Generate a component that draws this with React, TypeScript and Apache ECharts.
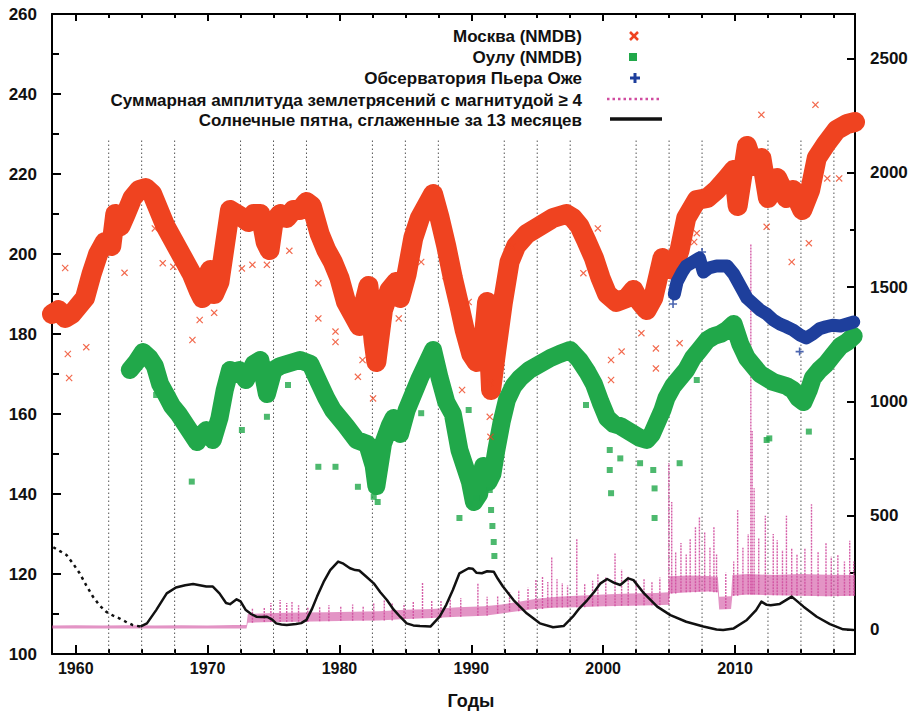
import React, { useEffect, useRef } from "react";
import * as echarts from "echarts";

// ---------- axes ----------
const X_MIN = 1958.2;
const X_MAX = 2019.1;
const majorYears = [1960, 1970, 1980, 1990, 2000, 2010];
const minorYears = [1962.5, 1965, 1967.5, 1972.5, 1975, 1977.5, 1982.5, 1985, 1987.5, 1992.5, 1995, 1997.5, 2002.5, 2005, 2007.5, 2012.5, 2015, 2017.5];
const leftLabels = [100, 120, 140, 160, 180, 200, 220, 240, 260];
const leftMinor = [110, 130, 150, 170, 190, 210, 230, 250];
const rightLabels = [0, 500, 1000, 1500, 2000, 2500];
const rightMinor = [250, 750, 1250, 1750, 2250];
const GRID_TOP_VALUE = 228.5;

// ---------- Moscow (NMDB) ----------
const moscowYears = [1958.2, 1958.7, 1959.2, 1959.7, 1960.2, 1960.7, 1961.2, 1961.7, 1962.2, 1962.7, 1963.0, 1963.4, 1963.8, 1964.3, 1964.8, 1965.3, 1965.8, 1966.3, 1966.8, 1967.3, 1967.8, 1968.3, 1968.8, 1969.3, 1969.6, 1969.9, 1970.2, 1970.5, 1970.9, 1971.3, 1971.7, 1972.2, 1972.7, 1973.1, 1973.5, 1974.0, 1974.4, 1974.7, 1975.0, 1975.5, 1976.0, 1976.5, 1977.0, 1977.5, 1977.9, 1978.5, 1979.0, 1979.5, 1980.0, 1980.5, 1981.0, 1981.5, 1981.9, 1982.2, 1982.6, 1982.8, 1983.3, 1983.8, 1984.3, 1984.6, 1985.1, 1985.6, 1986.1, 1986.6, 1987.1, 1987.6, 1988.1, 1988.6, 1989.1, 1989.5, 1990.0, 1990.4, 1990.8, 1991.2, 1991.5, 1991.9, 1992.4, 1992.9, 1993.4, 1994.2, 1995.2, 1996.2, 1997.2, 1997.7, 1998.2, 1998.7, 1999.3, 1999.8, 2000.3, 2001.0, 2001.8, 2002.3, 2002.8, 2003.3, 2003.8, 2004.5, 2005.3, 2005.8, 2006.3, 2007.1, 2007.9, 2008.6, 2009.4, 2009.9, 2010.2, 2010.9, 2011.4, 2012.0, 2012.5, 2013.2, 2013.9, 2014.4, 2015.1, 2015.7, 2016.2, 2016.9, 2017.7, 2018.5, 2019.1];
const moscowValues = [185, 186, 184, 185, 187, 189, 195, 200, 203, 202, 210, 207, 210, 214, 216, 216.5, 215, 211, 207, 204, 201, 198, 195, 191, 189, 194, 196, 190, 193, 202, 211, 210, 209, 208, 210, 210, 203, 201, 208, 210, 209, 211, 211, 213, 212, 205, 201, 198, 194, 188, 185, 182, 188, 192, 178, 173, 186, 191, 193, 189, 195, 204, 209, 212, 215, 209, 202, 194, 187, 181, 175, 173, 174, 188, 166, 176, 188, 198, 202, 205, 207, 209, 210, 209, 207, 203.5, 199, 194, 190, 188, 189, 191, 188, 186, 189, 199, 196, 201, 209, 213.5, 214, 216, 219, 221, 212, 227, 222, 224, 214, 219, 214, 216, 211, 216, 224, 227.5, 231, 232.5, 233];
const moscowOutYears = [1959.2, 1959.5, 1959.4, 1960.8, 1963.7, 1966.0, 1966.6, 1967.4, 1968.85, 1969.4, 1970.5, 1972.6, 1973.4, 1974.5, 1976.2, 1978.4, 1978.4, 1979.7, 1979.7, 1981.4, 1981.75, 1982.55, 1984.5, 1986.2, 1988.05, 1989.3, 1989.8, 1991.4, 1991.45, 1991.4, 1993.1, 1998.5, 1999.6, 2000.6, 2000.6, 2001.4, 2002.9, 2004.0, 2004.0, 2005.8, 2006.9, 2007.1, 2012.0, 2012.4, 2014.3, 2015.6, 2016.1, 2017.0, 2017.9];
const moscowOutValues = [196.5, 169, 175, 176.7, 195.3, 206.4, 197.7, 196.8, 178.5, 183.5, 185.3, 196.4, 197.3, 197.3, 200.8, 192.7, 183.9, 180.6, 178, 169.3, 173.5, 163.9, 183.9, 198, 194.5, 166, 188, 159.3, 154.3, 167.7, 201.8, 195.2, 206.4, 173.5, 168.5, 175.6, 180.2, 176.4, 171.4, 177.7, 203, 205.2, 234.8, 206.8, 198, 202.7, 237.3, 218.9, 218.9];

// ---------- Oulu (NMDB) ----------
const ouluYears = [1964.1, 1964.6, 1965.1, 1965.6, 1966.0, 1966.4, 1966.9, 1967.3, 1967.8, 1968.4, 1968.8, 1969.2, 1969.6, 1969.9, 1970.4, 1970.9, 1971.3, 1971.7, 1972.1, 1972.4, 1972.9, 1973.5, 1974.0, 1974.5, 1975.0, 1975.5, 1976.0, 1976.5, 1977.0, 1977.8, 1978.5, 1979.0, 1979.5, 1980.0, 1980.5, 1981.3, 1982.1, 1982.6, 1982.8, 1983.3, 1983.8, 1984.1, 1984.6, 1985.1, 1985.6, 1986.1, 1986.6, 1987.1, 1987.6, 1988.1, 1988.6, 1989.1, 1989.5, 1989.9, 1990.2, 1990.6, 1990.9, 1991.3, 1991.6, 1991.9, 1992.3, 1992.7, 1993.2, 1993.7, 1994.4, 1995.2, 1996.0, 1996.7, 1997.5, 1998.2, 1998.8, 1999.3, 1999.8, 2000.3, 2000.8, 2001.3, 2001.8, 2002.3, 2002.8, 2003.3, 2003.7, 2004.1, 2004.5, 2004.8, 2005.3, 2005.8, 2006.3, 2006.8, 2007.3, 2007.9, 2008.4, 2008.9, 2009.4, 2009.9, 2010.4, 2010.9, 2011.4, 2011.9, 2012.4, 2012.9, 2013.4, 2013.9, 2014.4, 2014.8, 2015.2, 2015.6, 2015.9, 2016.4, 2016.9, 2017.5, 2018.0, 2018.5, 2019.0];
const ouluValues = [171, 173, 175.5, 174, 172, 167.5, 164.5, 162, 160, 157, 155, 153, 155, 156, 153.5, 159, 166, 171, 170, 171, 168.5, 172.5, 173.5, 165, 171, 172, 172.5, 173, 173.5, 172.5, 167.5, 164, 161, 159, 157, 153.5, 152.5, 147, 142, 152.5, 157, 159, 155, 161, 165, 169, 172.5, 176, 169, 163, 160, 151, 147, 143, 138, 140, 147, 143, 145, 151, 158, 163.5, 167, 169, 171, 172.5, 174, 175, 176, 173.5, 170.5, 167.5, 163, 159, 157.5, 157, 156, 155, 154, 153.5, 155, 158, 161, 164, 167, 169, 171, 174, 176, 178.5, 179.5, 180, 181, 182.5, 177.5, 174, 172, 170, 169, 168, 167.5, 167, 166, 164, 163, 166, 169, 171, 172.5, 175, 177, 178, 179.5];
const ouluOutYears = [1966.1, 1968.8, 1972.6, 1974.5, 1976.1, 1978.4, 1979.7, 1981.4, 1982.6, 1982.9, 1986.2, 1989.1, 1989.8, 1989.9, 1990.4, 1991.4, 1991.5, 1991.6, 1991.7, 1991.75, 1998.7, 2000.5, 2000.5, 2000.6, 2001.3, 2002.8, 2003.8, 2003.9, 2003.9, 2005.8, 2007.1, 2012.4, 2012.6, 2015.6];
const ouluOutValues = [164.75, 143.1, 156, 159.3, 167.25, 146.8, 146.8, 141.8, 139.3, 138, 160.2, 134, 161, 137.5, 139, 141, 136, 132, 128, 124.5, 162.25, 151, 146, 140.2, 148.9, 147.7, 146, 141.4, 134, 147.7, 168.5, 153.5, 153.9, 155.6];

// ---------- Pierre Auger Observatory ----------
const augerYears = [2005.4, 2005.6, 2006.0, 2006.3, 2006.8, 2007.3, 2007.6, 2008.0, 2008.6, 2009.1, 2009.4, 2009.9, 2010.4, 2010.9, 2011.4, 2011.9, 2012.4, 2012.9, 2013.4, 2013.9, 2014.4, 2014.9, 2015.4, 2015.9, 2016.4, 2016.9, 2017.4, 2018.0, 2018.5, 2019.0];
const augerValues = [190, 193, 195.5, 197, 198, 199, 195.5, 196.5, 197, 197, 197, 195, 192, 189, 187.5, 186, 185, 183.5, 182.5, 181.8, 181, 179.8, 179, 180, 181.3, 181.8, 182.2, 182, 182.5, 183];
const augerOutYears = [2005.3, 2007.5, 2014.9];
const augerOutValues = [187.5, 200.5, 175.6];

// ---------- Earthquakes (right axis) ----------
const quakeBandYears = [1958.2, 1960, 1962, 1964, 1966, 1968, 1970, 1972, 1972.95, 1973.05, 1975, 1977, 1979, 1981, 1983, 1985, 1987, 1989, 1991, 1992.3, 1993.5, 1994.8, 1996.5, 1998, 2000, 2002, 2004, 2004.95, 2005.05, 2006.5, 2008, 2008.7, 2008.8, 2009.7, 2009.8, 2011, 2013, 2015, 2017, 2019.1];
const quakeBandLow = [6, 6, 7, 6, 7, 6, 7, 7, 7, 32, 35, 36, 38, 40, 42, 48, 52, 58, 62, 72, 82, 92, 98, 100, 104, 106, 108, 110, 160, 165, 168, 165, 90, 92, 150, 155, 152, 150, 148, 150];
const quakeBandHigh = [20, 21, 20, 21, 20, 21, 20, 22, 22, 70, 74, 76, 78, 80, 82, 88, 92, 100, 104, 112, 122, 135, 145, 150, 155, 160, 162, 165, 235, 238, 236, 232, 145, 148, 240, 245, 240, 245, 242, 240];
const quakeSpikeYears = [1973.4, 1974.3, 1974.8, 1975.5, 1976.0, 1976.4, 1976.9, 1977.6, 1978.5, 1979.2, 1980.1, 1981.0, 1981.8, 1982.6, 1983.4, 1984.0, 1984.9, 1985.6, 1986.3, 1987.0, 1987.7, 1988.4, 1989.2, 1990.5, 1991.2, 1992.0, 1992.9, 1993.6, 1994.3, 1994.9, 1995.4, 1995.8, 1996.1, 1996.5, 1996.9, 1997.3, 1998.0, 1998.6, 1999.2, 1999.6, 2000.2, 2000.9, 2001.4, 2001.9, 2002.5, 2003.1, 2003.7, 2004.3, 2004.98, 2005.2, 2005.5, 2005.9, 2006.3, 2006.6, 2007.0, 2007.3, 2007.7, 2008.1, 2008.4, 2008.6, 2009.3, 2009.9, 2010.2, 2010.6, 2011.0, 2011.2, 2011.3, 2011.45, 2011.8, 2012.3, 2012.9, 2013.2, 2013.6, 2013.9, 2014.3, 2014.7, 2015.3, 2015.8, 2016.3, 2016.9, 2017.3, 2017.8, 2018.3, 2018.7, 2019.0];
const quakeSpikePeaks = [95, 100, 118, 131, 118, 122, 108, 102, 100, 108, 105, 112, 106, 120, 130, 118, 115, 125, 205, 130, 128, 135, 140, 205, 145, 150, 165, 175, 185, 219, 232, 210, 320, 222, 205, 195, 398, 200, 215, 245, 230, 335, 265, 235, 215, 225, 210, 230, 730, 560, 340, 380, 330, 400, 450, 494, 430, 360, 450, 330, 250, 300, 524, 360, 420, 1690, 870, 620, 400, 500, 420, 393, 350, 500, 360, 330, 360, 550, 340, 380, 320, 330, 300, 390, 300];

// ---------- Sunspots, 13-month smoothed (right axis) ----------
const sunDashedYears = [1958.3, 1958.8, 1959.3, 1959.8, 1960.3, 1960.8, 1961.3, 1961.8, 1962.3, 1962.8, 1963.3, 1963.8, 1964.3, 1964.9];
const sunDashedValues = [362, 345, 328, 290, 248, 195, 146, 108, 80, 64, 51, 36, 22, 15];
const sunYears = [1964.9, 1965.4, 1966.1, 1966.9, 1967.6, 1968.3, 1968.9, 1969.4, 1969.9, 1970.4, 1970.9, 1971.4, 1971.7, 1972.2, 1972.5, 1972.9, 1973.3, 1973.7, 1974.1, 1974.5, 1974.9, 1975.2, 1975.6, 1976.0, 1976.7, 1977.1, 1977.5, 1977.9, 1978.3, 1978.8, 1979.3, 1979.9, 1980.3, 1980.8, 1981.2, 1981.5, 1982.0, 1982.6, 1983.1, 1983.6, 1984.1, 1984.6, 1985.1, 1985.6, 1986.1, 1986.9, 1987.6, 1988.1, 1988.6, 1989.1, 1989.8, 1990.1, 1990.4, 1990.8, 1991.2, 1991.7, 1992.0, 1992.4, 1993.2, 1994.2, 1995.2, 1996.2, 1997.0, 1997.7, 1998.2, 1998.8, 1999.3, 1999.8, 2000.3, 2000.8, 2001.3, 2001.9, 2002.3, 2003.1, 2004.1, 2005.1, 2006.3, 2007.6, 2008.6, 2009.1, 2009.9, 2010.9, 2011.6, 2012.0, 2012.4, 2012.7, 2013.4, 2014.3, 2015.2, 2016.2, 2017.2, 2018.2, 2019.0];
const sunValues = [15, 29, 87, 160, 186, 196, 201, 196, 190, 190, 160, 118, 113, 134, 125, 87, 70, 58, 57, 58, 45, 29, 24, 22, 26, 30, 44, 90, 146, 210, 262, 299, 290, 270, 262, 260, 235, 204, 165, 131, 90, 58, 29, 20, 17, 15, 58, 110, 175, 248, 270, 268, 250, 248, 257, 255, 225, 190, 131, 73, 29, 12, 17, 58, 95, 131, 165, 204, 223, 207, 197, 226, 218, 160, 102, 65, 36, 15, 2, 0, 7, 44, 87, 124, 110, 108, 114, 146, 102, 58, 26, 3, 0];

// ---------- legend texts ----------
const legendLabels = [
  "Москва (NMDB)",
  "Оулу (NMDB)",
  "Обсерватория Пьера Оже",
  "Суммарная амплитуда землетрясений с магнитудой ≥ 4",
  "Солнечные пятна, сглаженные за 13 месяцев",
];
const xAxisTitle = "Годы";

const RED = "#ef4320";
const GREEN = "#21a84a";
const BLUE = "#1e3f9c";
const MAGENTA = "#d04c9f";
const BLACK = "#111111";
const FONT = '"Liberation Sans", Arial, Helvetica, sans-serif';

const zip = (xs: number[], ys: number[]) => xs.map((x, i) => [x, ys[i]]);
const X_SYMBOL = "path://M0,1.2L1.2,0L5,3.8L8.8,0L10,1.2L6.2,5L10,8.8L8.8,10L5,6.2L1.2,10L0,8.8L3.8,5Z";
const PLUS_SYMBOL = "path://M4,0H6V4H10V6H6V10H4V6H0V4H4Z";

function bandLowAt(year: number): number {
  let best = 0;
  for (let i = 1; i < quakeBandYears.length; i++) {
    if (Math.abs(quakeBandYears[i] - year) < Math.abs(quakeBandYears[best] - year)) best = i;
  }
  return quakeBandLow[best];
}

export default function App() {
  const ref = useRef<HTMLDivElement>(null);
  useEffect(() => {
    if (!ref.current) return;
    const chart = echarts.init(ref.current, undefined, { renderer: "svg" });
    const plain = (v: number) => String(v);
    const xLabelStyle = { fontSize: 16, fontWeight: "bold", color: BLACK, fontFamily: FONT, formatter: plain };
    const yLabelStyle = { fontSize: 17, fontWeight: "bold", color: BLACK, fontFamily: FONT, formatter: plain };
    const axisLineStyle = { color: "#000", width: 2 };
    const tickLine = { color: "#000", width: 2 };
    const xBase = { type: "value", min: X_MIN, max: X_MAX, splitLine: { show: false } };
    const option: any = {
      animation: false,
      backgroundColor: "#ffffff",
      grid: { left: 52, top: 14, width: 803, height: 640, containLabel: false },
      xAxis: [
        {
          ...xBase, position: "bottom",
          axisLine: { show: true, onZero: false, lineStyle: axisLineStyle },
          axisTick: { show: true, inside: true, length: 9, customValues: majorYears, lineStyle: tickLine },
          axisLabel: { show: true, customValues: majorYears, margin: 6, ...xLabelStyle },
        },
        {
          ...xBase, position: "bottom",
          axisLine: { show: false, onZero: false },
          axisTick: { show: true, inside: true, length: 5, customValues: minorYears, lineStyle: tickLine },
          axisLabel: { show: false },
        },
        {
          ...xBase, position: "top",
          axisLine: { show: true, onZero: false, lineStyle: axisLineStyle },
          axisTick: { show: true, inside: true, length: 7, customValues: majorYears, lineStyle: tickLine },
          axisLabel: { show: false },
        },
        {
          ...xBase, position: "top",
          axisLine: { show: false, onZero: false },
          axisTick: { show: true, inside: true, length: 4, customValues: minorYears, lineStyle: tickLine },
          axisLabel: { show: false },
        },
      ],
      yAxis: [
        {
          type: "value", min: 100, max: 260, position: "left", splitLine: { show: false },
          axisLine: { show: true, onZero: false, lineStyle: axisLineStyle },
          axisTick: { show: true, inside: true, length: 9, customValues: leftLabels, lineStyle: tickLine },
          axisLabel: { show: true, customValues: leftLabels, margin: 15, ...yLabelStyle },
        },
        {
          type: "value", min: -105, max: 2694, position: "right", splitLine: { show: false },
          axisLine: { show: true, onZero: false, lineStyle: axisLineStyle },
          axisTick: { show: true, inside: true, length: 8, customValues: rightLabels, lineStyle: tickLine },
          axisLabel: { show: true, customValues: rightLabels, margin: 15, ...yLabelStyle },
        },
        {
          type: "value", min: 100, max: 260, position: "left", splitLine: { show: false },
          axisLine: { show: false, onZero: false },
          axisTick: { show: true, inside: true, length: 7, customValues: leftMinor, lineStyle: tickLine },
          axisLabel: { show: false },
        },
        {
          type: "value", min: -105, max: 2694, position: "right", splitLine: { show: false },
          axisLine: { show: false, onZero: false },
          axisTick: { show: true, inside: true, length: 5, customValues: rightMinor, lineStyle: tickLine },
          axisLabel: { show: false },
        },
      ],
      series: [
        {
          type: "custom", name: "grid", coordinateSystem: "cartesian2d", xAxisIndex: 0, yAxisIndex: 0, z: 1, silent: true,
          data: minorYears.map((y) => [y, 100]),
          renderItem: (_p: any, api: any) => {
            const x = api.value(0);
            const a = api.coord([x, 100]);
            const b = api.coord([x, GRID_TOP_VALUE]);
            return { type: "line", shape: { x1: a[0], y1: a[1], x2: b[0], y2: b[1] }, style: { stroke: "#555", lineWidth: 1, lineDash: [1.5, 2.5] } };
          },
        },
        {
          type: "custom", name: "quakeBand", coordinateSystem: "cartesian2d", xAxisIndex: 0, yAxisIndex: 1, z: 2, silent: true,
          data: [[quakeBandYears[0], quakeBandLow[0]]],
          renderItem: (_p: any, api: any) => {
            const pts: number[][] = [];
            for (let i = 0; i < quakeBandYears.length; i++) pts.push(api.coord([quakeBandYears[i], quakeBandHigh[i]]));
            for (let i = quakeBandYears.length - 1; i >= 0; i--) pts.push(api.coord([quakeBandYears[i], quakeBandLow[i]]));
            return { type: "polygon", shape: { points: pts }, style: { fill: MAGENTA, opacity: 0.6 } };
          },
        },
        {
          type: "custom", name: "quakeSpikes", coordinateSystem: "cartesian2d", xAxisIndex: 0, yAxisIndex: 1, z: 2, silent: true,
          data: quakeSpikeYears.map((y, i) => [y, bandLowAt(y), quakeSpikePeaks[i]]),
          encode: { x: 0, y: [1, 2] },
          renderItem: (_p: any, api: any) => {
            const x = api.value(0);
            const a = api.coord([x, api.value(1)]);
            const b = api.coord([x, api.value(2)]);
            return { type: "line", shape: { x1: a[0], y1: a[1], x2: b[0], y2: b[1] }, style: { stroke: MAGENTA, lineWidth: 1.4, lineDash: [2, 1], opacity: 0.9 } };
          },
        },
        {
          type: "line", name: "sunDashed", xAxisIndex: 0, yAxisIndex: 1, z: 3, showSymbol: false, symbol: "none",
          data: zip(sunDashedYears, sunDashedValues),
          lineStyle: { color: BLACK, width: 2.5, type: [3, 4] },
        },
        {
          type: "line", name: "sun", xAxisIndex: 0, yAxisIndex: 1, z: 3, showSymbol: false, symbol: "none",
          data: zip(sunYears, sunValues),
          lineStyle: { color: BLACK, width: 2.5, join: "round" },
        },
        {
          type: "line", name: "moscow", xAxisIndex: 0, yAxisIndex: 0, z: 4, showSymbol: false, symbol: "none",
          data: zip(moscowYears, moscowValues),
          lineStyle: { color: RED, width: 20, cap: "round", join: "round" },
        },
        {
          type: "scatter", name: "moscowOut", xAxisIndex: 0, yAxisIndex: 0, z: 4, symbol: X_SYMBOL, symbolSize: 7,
          data: zip(moscowOutYears, moscowOutValues), itemStyle: { color: RED },
        },
        {
          type: "line", name: "oulu", xAxisIndex: 0, yAxisIndex: 0, z: 4, showSymbol: false, symbol: "none",
          data: zip(ouluYears, ouluValues),
          lineStyle: { color: GREEN, width: 18, cap: "round", join: "round" },
        },
        {
          type: "scatter", name: "ouluOut", xAxisIndex: 0, yAxisIndex: 0, z: 4, symbol: "rect", symbolSize: 6,
          data: zip(ouluOutYears, ouluOutValues), itemStyle: { color: GREEN },
        },
        {
          type: "line", name: "auger", xAxisIndex: 0, yAxisIndex: 0, z: 5, showSymbol: false, symbol: "none",
          data: zip(augerYears, augerValues),
          lineStyle: { color: BLUE, width: 13, cap: "round", join: "round" },
        },
        {
          type: "scatter", name: "augerOut", xAxisIndex: 0, yAxisIndex: 0, z: 5, symbol: PLUS_SYMBOL, symbolSize: 8,
          data: zip(augerOutYears, augerOutValues), itemStyle: { color: BLUE },
        },
      ],
      graphic: [
        ...legendLabels.map((t, i) => ({
          type: "text", z: 10, x: 582, y: [36, 57, 78, 100, 120][i],
          style: { text: t, textAlign: "right", textVerticalAlign: "middle", font: `bold 17px ${FONT}`, fill: BLACK },
        })),
        { type: "line", z: 10, shape: { x1: 630, y1: 32, x2: 638, y2: 40 }, style: { stroke: RED, lineWidth: 2.5 } },
        { type: "line", z: 10, shape: { x1: 630, y1: 40, x2: 638, y2: 32 }, style: { stroke: RED, lineWidth: 2.5 } },
        { type: "rect", z: 10, shape: { x: 629, y: 53, width: 8, height: 8 }, style: { fill: GREEN } },
        { type: "line", z: 10, shape: { x1: 630, y1: 78, x2: 640, y2: 78 }, style: { stroke: BLUE, lineWidth: 3 } },
        { type: "line", z: 10, shape: { x1: 635, y1: 73, x2: 635, y2: 83 }, style: { stroke: BLUE, lineWidth: 3 } },
        { type: "line", z: 10, shape: { x1: 607, y1: 99, x2: 662, y2: 99 }, style: { stroke: MAGENTA, lineWidth: 2.5, lineDash: [2.5, 3] } },
        { type: "line", z: 10, shape: { x1: 610, y1: 119, x2: 662, y2: 119 }, style: { stroke: BLACK, lineWidth: 3.5 } },
        {
          type: "text", z: 10, x: 471, y: 701,
          style: { text: xAxisTitle, textAlign: "center", textVerticalAlign: "middle", font: `bold 18px ${FONT}`, fill: BLACK },
        },
      ],
    };
    chart.setOption(option);
    return () => chart.dispose();
  }, []);
  return <div ref={ref} style={{ width: 918, height: 711, position: "absolute", left: 0, top: 0, background: "#fff" }} />;
}
